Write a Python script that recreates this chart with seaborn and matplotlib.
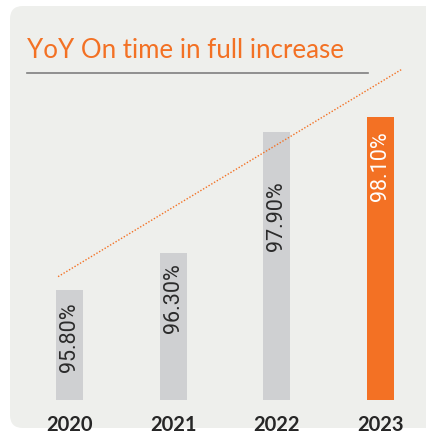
import matplotlib
matplotlib.use("Agg")
import matplotlib.pyplot as plt
from matplotlib.patches import FancyBboxPatch
from matplotlib.lines import Line2D
import seaborn as sns
import pandas as pd

# data
years = ["2020", "2021", "2022", "2023"]
on_time = [95.8, 96.3, 97.9, 98.1]
labels = ["95.80%", "96.30%", "97.90%", "98.10%"]
trend_x = [-0.11, 3.21]
trend_y = [95.98, 98.74]

ORANGE = "#f37124"
GREY_BAR = "#cfd0d2"
PANEL = "#eeefec"

W, H = 427, 438
fig = plt.figure(figsize=(W / 100, H / 100), dpi=100)
fig.patch.set_facecolor("white")

# rounded background panel
panel = FancyBboxPatch((10 / W, 10 / H), 440 / W, 422 / H,
                       boxstyle="round,pad=0,rounding_size=0.03",
                       transform=fig.transFigure, facecolor=PANEL,
                       edgecolor="none", zorder=-5)
fig.patches.append(panel)

fig.text(27 / W, 1 - 58 / H, "YoY On time in full increase", color=ORANGE,
         fontsize=18.6, family="Lato", va="baseline", ha="left")
fig.lines.append(Line2D([27 / W, 368 / W], [1 - 73 / H, 1 - 73 / H],
                        transform=fig.transFigure, color="#7f7f7f", lw=1.2))

ax = fig.add_axes([28 / W, 38 / H, 394 / W, 340 / H])
ax.set_facecolor("none")
ax.set_zorder(2)

df = pd.DataFrame({"year": years, "value": on_time})
sns.barplot(data=df, x="year", y="value", hue="year",
            palette=[GREY_BAR, GREY_BAR, GREY_BAR, ORANGE],
            width=0.26, legend=False, ax=ax, saturation=1)

ax.plot(trend_x, trend_y, color=ORANGE, lw=1.0, ls=(0, (1, 1.3)), zorder=3)

# value labels inside the bars, rotated
offsets = [12, 11, 49, 14]
for i, (v, txt) in enumerate(zip(on_time, labels)):
    ax.annotate(txt, (i, v), xytext=(0, -offsets[i]), textcoords="offset pixels",
                rotation=90, ha="center", va="top", fontsize=15.5,
                family="Roboto", fontweight="normal",
                color="white" if i == 3 else "#2b2b2b")

ax.set_xlim(-0.4, 3.4)
ax.set_ylim(94.34, 98.86)
ax.set_xlabel("")
ax.set_ylabel("")
ax.set_yticks([])
ax.tick_params(axis="x", length=0, pad=11)
for t in ax.get_xticklabels():
    t.set_fontfamily("Lato")
    t.set_fontweight("bold")
    t.set_fontsize(14.5)
    t.set_color("#262626")
for s in ax.spines.values():
    s.set_visible(False)

fig.savefig("out.png", dpi=100, facecolor="white")
